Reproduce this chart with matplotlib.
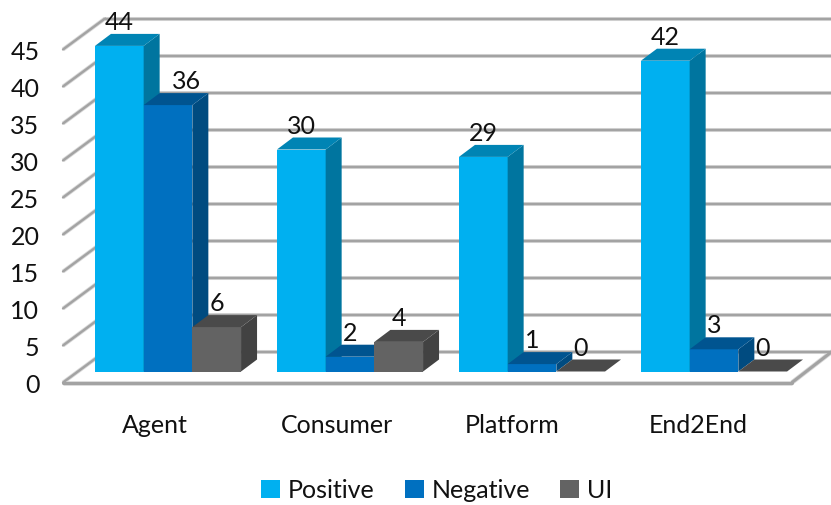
from matplotlib import pyplot as plt
from matplotlib.patches import Patch, Polygon
import numpy as np

categories = ['Agent', 'Consumer', 'Platform', 'End2End']
series_names = ['Positive', 'Negative', 'UI']
positive = [44, 30, 29, 42]
negative = [36, 2, 1, 3]
ui = [6, 4, 0, 0]
y_ticks = [0, 5, 10, 15, 20, 25, 30, 35, 40, 45]

front_colors = ['#00B0F0', '#0070C0', '#636363']
side_colors = ['#00759F', '#004B80', '#424242']
top_colors = ['#0084B4', '#005490', '#4A4A4A']
grid_color = '#A3A3A3'
text_size = 18

plt.rcParams['font.family'] = ['Lato', 'DejaVu Sans']

W, H = 831, 506
fig = plt.figure(figsize=(W / 100, H / 100), dpi=100)
# axes: one x unit is a category step, one y unit is a chart value
ax = fig.add_axes([77 / W, (H - 372.5) / H, 728 / W, 333 / H])
ax.set_xlim(-0.5, 3.5)
ax.set_ylim(0, 45)
ax.axis('off')

# pixel sizes of the fake 3d projection, in data units
px_x = 4 / 728
px_y = 45 / 333
bar_w = 48.7 * px_x
depth_x, depth_y = 16 * px_x, 12 * px_y

wall_left = -0.5 + 28 * px_x
wall_right = -0.5 + 755 * px_x
back_dy = 20 * px_y
front_dy = -11 * px_y
floor_left = -0.5 - 14 * px_x
floor_right = -0.5 + 715 * px_x


def line(xs, ys, lw=1.7, color=grid_color):
    # pale shadow under the line, as in the original
    ax.plot(xs, ys, color='#D9D9D9', lw=lw + 1.2, clip_on=False, zorder=1,
            solid_capstyle='butt')
    ax.plot(xs, ys, color=color, lw=lw, clip_on=False, zorder=1.1,
            solid_capstyle='round')


for v in y_ticks:
    line([floor_left, wall_left], [v + front_dy, v + back_dy])
    line([wall_left, wall_right], [v + back_dy, v + back_dy])
    ax.annotate(str(v), (floor_left, v + front_dy), xytext=(-17, -1.5),
                textcoords='offset points', ha='right', va='center',
                fontsize=text_size, color='#111111', annotation_clip=False)

line([floor_left, floor_right], [front_dy, front_dy], lw=2.2)
line([floor_right, wall_right], [front_dy, back_dy], lw=2.2)

all_values = [positive, negative, ui]
x_base = np.arange(len(categories))
for j, values in enumerate(all_values):
    lefts = x_base + (j - 1.5) * bar_w
    ax.bar(lefts, values, width=bar_w, align='edge', color=front_colors[j],
           zorder=3 + j, clip_on=False)
    for i, (x, v) in enumerate(zip(lefts, values)):
        top = [(x, v), (x + bar_w, v), (x + bar_w + depth_x, v + depth_y), (x + depth_x, v + depth_y)]
        side = [(x + bar_w, 0), (x + bar_w + depth_x, depth_y), (x + bar_w + depth_x, v + depth_y), (x + bar_w, v)]
        ax.add_patch(Polygon(side, color=side_colors[j], lw=0, zorder=3 + j, clip_on=False))
        ax.add_patch(Polygon(top, color=top_colors[j], lw=0, zorder=3 + j, clip_on=False))
        # the 36 label sits off to the right of its bar in the original
        nudge = 13.5 if (i == 0 and j == 1) else 0
        ax.annotate(str(v), (x + bar_w / 2, v), xytext=(nudge, 17.5),
                    textcoords='offset points', ha='center', va='center',
                    fontsize=text_size, color='#111111', zorder=10, annotation_clip=False)

cat_nudge = [0, 0, -4.5, -2]
for x, name, dx in zip(x_base, categories, cat_nudge):
    ax.annotate(name, (x, 0), xytext=(-9.5 + dx, -38.5), textcoords='offset points',
                ha='center', va='center', fontsize=text_size, color='#111111',
                annotation_clip=False)

handles = [Patch(color=c, lw=0) for c in front_colors]
fig.legend(handles, series_names, ncol=3, frameon=False, fontsize=text_size,
           loc='center', bbox_to_anchor=(436.5 / W, (H - 491) / H),
           handlelength=0.76, handleheight=0.76, handletextpad=0.32,
           columnspacing=1.2, labelcolor='#111111')

fig.savefig('out.png', dpi=100)
plt.close()
